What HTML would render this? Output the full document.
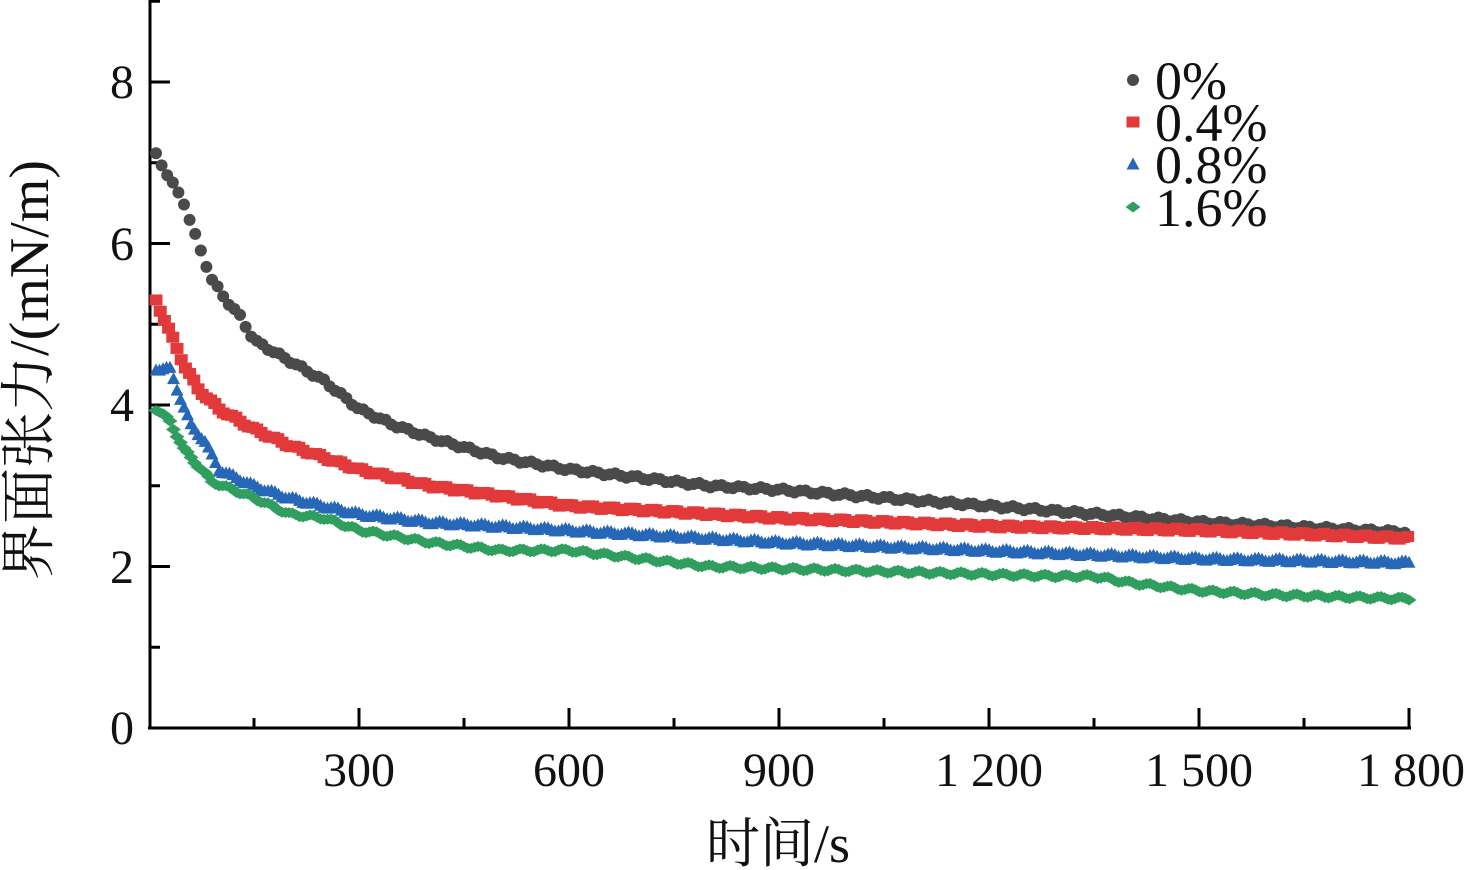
<!DOCTYPE html>
<html><head><meta charset="utf-8"><style>body{margin:0;background:#fff}svg{display:block}text{font-family:"Liberation Serif","Noto Serif CJK SC",serif;fill:#111}</style></head>
<body>
<svg id="s" width="1473" height="870" xmlns="http://www.w3.org/2000/svg">
<g stroke="#000" stroke-width="3" fill="none">
<line x1="150" y1="0" x2="150" y2="729"/>
<line x1="148" y1="728" x2="1411" y2="728"/>
</g>
<g font-size="48" text-anchor="end">
<text x="134" y="744">0</text><text x="134" y="583">2</text><text x="134" y="421">4</text><text x="134" y="260">6</text><text x="134" y="98">8</text>
</g>
<g font-size="48" text-anchor="middle">
<text x="359" y="786">300</text><text x="569" y="786">600</text><text x="779" y="786">900</text><text x="989" y="786">1 200</text><text x="1199" y="786">1 500</text><text x="1411" y="786">1 800</text>
<text x="778" y="862" font-size="54">时间/s</text>
<text transform="translate(48,370) rotate(-90)" font-size="56">界面张力/(mN/m)</text>
</g>
<g font-size="54">
<text x="1155" y="99">0%</text><text x="1155" y="141">0.4%</text><text x="1155" y="183">0.8%</text><text x="1155" y="226">1.6%</text>
</g>
<g id="ax" stroke="#000" stroke-width="3"></g>
<g id="pts"></g>
</svg>
<script>
var NS="http://www.w3.org/2000/svg",ax=document.getElementById("ax"),P=document.getElementById("pts");
function el(t,a,p){var e=document.createElementNS(NS,t);for(var k in a)e.setAttribute(k,a[k]);p.appendChild(e);return e;}
for(var v=0;v<=9;v++){var y=728-v*80.75,L=v%2==0?20:10;el("line",{x1:150,y1:y,x2:150+L,y2:y},ax);}
for(var t=150;t<=1800;t+=150){var x=149+t*0.7,L=t%300==0?20:10;el("line",{x1:x,y1:728,x2:x,y2:728-L},ax);}
var S=[
["#4a4a4a","c",[[10,7.1],[30,6.8],[50,6.5],[70,6.0],[90,5.55],[110,5.3],[130,5.1],[150,4.8],[200,4.55],[250,4.3],[300,3.95],[350,3.75],[400,3.6],[500,3.35],[600,3.2],[800,3.0],[900,2.95],[1200,2.75],[1500,2.55],[1800,2.42]]],
["#e23a3a","s",[[10,5.3],[30,4.9],[50,4.5],[70,4.2],[100,3.95],[150,3.7],[200,3.5],[300,3.2],[400,3.0],[600,2.75],[900,2.6],[1200,2.5],[1500,2.45],[1800,2.35]]],
["#2767b8","t",[[10,4.45],[30,4.45],[40,4.2],[60,3.75],[80,3.55],[100,3.2],[150,3.0],[200,2.85],[300,2.65],[400,2.55],[600,2.45],[900,2.3],[1200,2.2],[1500,2.1],[1800,2.05]]],
["#2f9e5e","d",[[10,3.95],[30,3.8],[50,3.45],[70,3.25],[90,3.05],[150,2.85],[200,2.65],[250,2.6],[300,2.45],[400,2.3],[500,2.2],[600,2.2],[700,2.1],[800,2.0],[1000,1.95],[1300,1.88],[1350,1.88],[1400,1.8],[1500,1.7],[1600,1.65],[1800,1.6]]]];
function mk(sh,c,x,y){
 if(sh=="c")el("circle",{cx:x,cy:y,r:6,fill:c},P);
 else if(sh=="s")el("rect",{x:x-6.5,y:y-5.5,width:13,height:11,fill:c},P);
 else if(sh=="t")el("polygon",{points:(x-6.5)+","+(y+5.5)+" "+x+","+(y-6.5)+" "+(x+6.5)+","+(y+5.5),fill:c},P);
 else el("polygon",{points:(x-7.5)+","+y+" "+x+","+(y-5.5)+" "+(x+7.5)+","+y+" "+x+","+(y+5.5),fill:c},P);}
S.forEach(function(s,si){var k=s[2],step=si<2?(si==0?8:6):5;
 for(var t=10;t<=1800;t+=step){var i=0;while(i<k.length-2&&k[i+1][0]<t)i++;var a=k[i],b=k[i+1],f=(t-a[0])/(b[0]-a[0]);var v=a[1]+(b[1]-a[1])*f;
 v+=Math.sin(t*0.21+si)*0.02;mk(s[1],s[0],149+t*0.7,728-v*80.75);}
 mk(s[1],s[0],1133,[80,122,164,207][si]);});
</script>
</body></html>
